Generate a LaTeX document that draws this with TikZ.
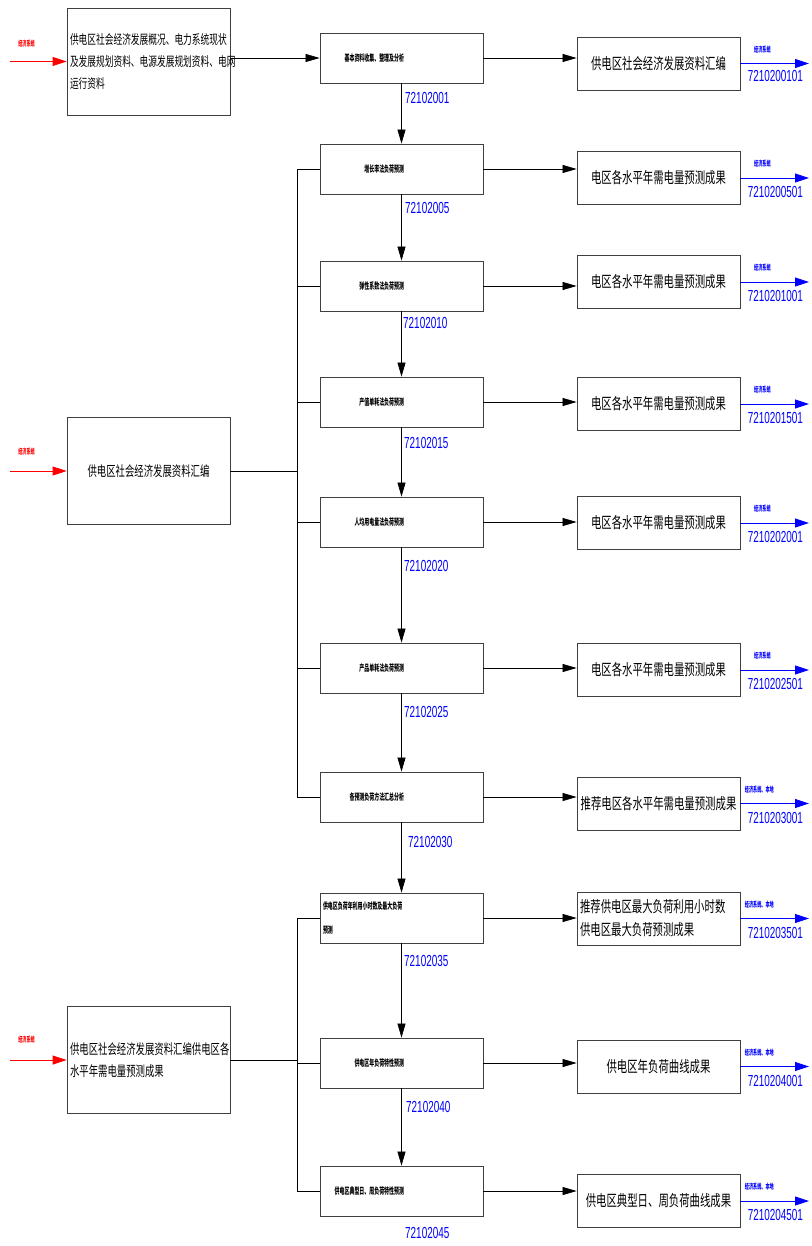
\documentclass[tikz,border=0pt]{standalone}
\usepackage{fontspec}
\setmainfont{Noto Sans CJK SC}
\newfontfamily\cjk[FakeStretch=0.67]{Noto Sans CJK SC}
\newfontfamily\cjknarrow[FakeStretch=0.55]{Noto Sans CJK SC}
\newfontfamily\codefont[FakeStretch=0.62]{Liberation Sans}
\usetikzlibrary{arrows.meta}

% text of a work box, ending at the middle of the box
\newcommand{\proctext}[1]{\hbox to 157pt{\hfill#1\hspace{76pt}}}

\begin{document}
\begin{tikzpicture}[
        x=1pt, y=-1pt,
        src/.style={rectangle, draw=black!75, line width=0.8pt, minimum width=163pt, minimum height=107pt, inner sep=3pt, text width=157pt, align=left, font=\cjk\fontsize{14}{22}\selectfont},
        proc/.style={rectangle, draw=black!75, line width=0.8pt, minimum width=163pt, minimum height=50pt, inner sep=3pt, font=\cjknarrow\bfseries\fontsize{9}{10}\selectfont},
        outbox/.style={rectangle, draw=black!75, line width=0.8pt, minimum width=163pt, minimum height=53pt, inner sep=3pt, align=center, font=\cjk\fontsize{15.5}{23}\selectfont},
        code/.style={text=blue, inner sep=0pt, font=\codefont\fontsize{16}{16}\selectfont},
        tag/.style={inner sep=0pt, font=\cjknarrow\bfseries\fontsize{7.5}{8}\selectfont},
        arrow/.style={-{Triangle[length=14pt,width=8pt]}, line width=0.7pt},
        outarrow/.style={-{Triangle[length=14pt,width=9pt]}, line width=0.9pt, blue},
        inarrow/.style={-{Triangle[length=14pt,width=9pt]}, line width=0.9pt, red},
        bus/.style={line width=0.7pt}
    ]
    \useasboundingbox (0,0) rectangle (811,1246);

    % Source material
    \node[src, font=\cjk\fontsize{13}{22}\selectfont] (src1) at (148.5,61.5) {供电区社会经济发展概况、电力系统现状\\及发展规划资料、电源发展规划资料、电网\\运行资料};
    \node[src, align=center] (src2) at (148.5,471) {供电区社会经济发展资料汇编};
    \node[src] (src3) at (148.5,1060) {供电区社会经济发展资料汇编供电区各\\水平年需电量预测成果};

    % Work steps
    \node[proc] (p1) at (401.5,58) {\proctext{基本资料收集、整理及分析}};
    \node[proc] (p2) at (401.5,169) {\proctext{增长率法负荷预测}};
    \node[proc] (p3) at (401.5,286) {\proctext{弹性系数法负荷预测}};
    \node[proc] (p4) at (401.5,402) {\proctext{产值单耗法负荷预测}};
    \node[proc] (p5) at (401.5,522) {\proctext{人均用电量法负荷预测}};
    \node[proc] (p6) at (401.5,668) {\proctext{产品单耗法负荷预测}};
    \node[proc] (p7) at (401.5,797) {\proctext{各预测负荷方法汇总分析}};
    \node[proc] (p8) at (401.5,918) {\parbox{157pt}{\fontsize{9}{24}\selectfont 供电区负荷年利用小时数及最大负荷\\预测}};
    \node[proc] (p9) at (401.5,1063) {\proctext{供电区年负荷特性预测}};
    \node[proc] (p10) at (401.5,1191) {\proctext{供电区典型日、周负荷特性预测}};

    % Step codes
    \node[code, anchor=west] (c1) at ([shift={(3.5,15)}]p1.south) {72102001};
    \node[code, anchor=west] (c2) at ([shift={(3.5,14)}]p2.south) {72102005};
    \node[code, anchor=west] (c3) at ([shift={(1.5,12)}]p3.south) {72102010};
    \node[code, anchor=west] (c4) at ([shift={(2.5,16)}]p4.south) {72102015};
    \node[code, anchor=west] (c5) at ([shift={(2.5,19)}]p5.south) {72102020};
    \node[code, anchor=west] (c6) at ([shift={(2.5,19)}]p6.south) {72102025};
    \node[code, anchor=west] (c7) at ([shift={(6.5,20)}]p7.south) {72102030};
    \node[code, anchor=west] (c8) at ([shift={(2.5,18)}]p8.south) {72102035};
    \node[code, anchor=west] (c9) at ([shift={(4.5,19)}]p9.south) {72102040};
    \node[code, anchor=west] (c10) at ([shift={(3.5,17)}]p10.south) {72102045};

    % Results
    \node[outbox] (o1) at (658.5,63.5) {供电区社会经济发展资料汇编};
    \node[outbox] (o2) at (658.5,178) {电区各水平年需电量预测成果};
    \node[outbox] (o3) at (658.5,282) {电区各水平年需电量预测成果};
    \node[outbox] (o4) at (658.5,404) {电区各水平年需电量预测成果};
    \node[outbox] (o5) at (658.5,523) {电区各水平年需电量预测成果};
    \node[outbox] (o6) at (658.5,670) {电区各水平年需电量预测成果};
    \node[outbox] (o7) at (658.5,803.5) {推荐电区各水平年需电量预测成果};
    \node[outbox, text width=157pt, align=left] (o8) at (658.5,918.5) {推荐供电区最大负荷利用小时数\\供电区最大负荷预测成果};
    \node[outbox] (o9) at (658.5,1066.5) {供电区年负荷曲线成果};
    \node[outbox] (o10) at (658.5,1201) {供电区典型日、周负荷曲线成果};

    % Inputs
    \coordinate (lin) at (10,0);
    \draw[inarrow] (src1.west -| lin) -- (src1.west);
    \draw[inarrow] (src2.west -| lin) -- (src2.west);
    \draw[inarrow] (src3.west -| lin) -- (src3.west);
    \node[tag, red] (r1) at ([shift={(-40,-18)}]src1.west) {经济系统};
    \node[tag, red] (r2) at ([shift={(-40,-19)}]src2.west) {经济系统};
    \node[tag, red] (r3) at ([shift={(-40,-20)}]src3.west) {经济系统};

    % Flow between steps
    \draw[arrow] (src1.east |- p1.west) -- (p1.west);
    \draw[arrow] (p1) -- (p2);
    \draw[arrow] (p2) -- (p3);
    \draw[arrow] (p3) -- (p4);
    \draw[arrow] (p4) -- (p5);
    \draw[arrow] (p5) -- (p6);
    \draw[arrow] (p6) -- (p7);
    \draw[arrow] (p7) -- (p8);
    \draw[arrow] (p8) -- (p9);
    \draw[arrow] (p9) -- (p10);

    % Feed lines
    \coordinate (bus1) at ([xshift=67pt]src2.east);
    \coordinate (bus2) at ([xshift=67pt]src3.east);
    \draw[bus] (src2.east) -- (bus1);
    \draw[bus] (p2.west) -| (bus1);
    \draw[bus] (p3.west) -| (bus1);
    \draw[bus] (p4.west) -| (bus1);
    \draw[bus] (p5.west) -| (bus1);
    \draw[bus] (p6.west) -| (bus1);
    \draw[bus] (p7.west) -| (bus1);
    \draw[bus] (src3.east) -- (bus2);
    \draw[bus] (p8.west) -| (bus2);
    \draw[bus] (p9.west) -| (bus2);
    \draw[bus] (p10.west) -| (bus2);

    % Steps to results
    \draw[arrow] (p1.east) -- (p1.east -| o1.west);
    \draw[arrow] (p2.east) -- (p2.east -| o2.west);
    \draw[arrow] (p3.east) -- (p3.east -| o3.west);
    \draw[arrow] (p4.east) -- (p4.east -| o4.west);
    \draw[arrow] (p5.east) -- (p5.east -| o5.west);
    \draw[arrow] (p6.east) -- (p6.east -| o6.west);
    \draw[arrow] (p7.east) -- (p7.east -| o7.west);
    \draw[arrow] (p8.east) -- (p8.east -| o8.west);
    \draw[arrow] (p9.east) -- (p9.east -| o9.west);
    \draw[arrow] (p10.east) -- (p10.east -| o10.west);

    % Outputs
    \coordinate (rim) at (809,0);
    \draw[outarrow] (o1.east) -- (o1.east -| rim);
    \draw[outarrow] (o2.east) -- (o2.east -| rim);
    \draw[outarrow] (o3.east) -- (o3.east -| rim);
    \draw[outarrow] (o4.east) -- (o4.east -| rim);
    \draw[outarrow] (o5.east) -- (o5.east -| rim);
    \draw[outarrow] (o6.east) -- (o6.east -| rim);
    \draw[outarrow] (o7.east) -- (o7.east -| rim);
    \draw[outarrow] (o8.east) -- (o8.east -| rim);
    \draw[outarrow] (o9.east) -- (o9.east -| rim);
    \draw[outarrow] (o10.east) -- (o10.east -| rim);

    \node[tag, blue] (t1) at ([shift={(22,-14)}]o1.east) {经济系统};
    \node[tag, blue] (t2) at ([shift={(22,-14)}]o2.east) {经济系统};
    \node[tag, blue] (t3) at ([shift={(22,-14)}]o3.east) {经济系统};
    \node[tag, blue] (t4) at ([shift={(22,-14)}]o4.east) {经济系统};
    \node[tag, blue] (t5) at ([shift={(22,-14)}]o5.east) {经济系统};
    \node[tag, blue] (t6) at ([shift={(22,-14)}]o6.east) {经济系统};
    \node[tag, blue] (t7) at ([shift={(19,-14)}]o7.east) {经济系统、本地};
    \node[tag, blue] (t8) at ([shift={(19,-14)}]o8.east) {经济系统、本地};
    \node[tag, blue] (t9) at ([shift={(19,-14)}]o9.east) {经济系统、本地};
    \node[tag, blue] (t10) at ([shift={(19,-14)}]o10.east) {经济系统、本地};

    \node[code] (oc1) at ([shift={(35,12)}]o1.east) {7210200101};
    \node[code] (oc2) at ([shift={(35,14)}]o2.east) {7210200501};
    \node[code] (oc3) at ([shift={(35,14)}]o3.east) {7210201001};
    \node[code] (oc4) at ([shift={(35,14)}]o4.east) {7210201501};
    \node[code] (oc5) at ([shift={(35,14)}]o5.east) {7210202001};
    \node[code] (oc6) at ([shift={(35,14)}]o6.east) {7210202501};
    \node[code] (oc7) at ([shift={(35,14)}]o7.east) {7210203001};
    \node[code] (oc8) at ([shift={(35,14)}]o8.east) {7210203501};
    \node[code] (oc9) at ([shift={(35,14)}]o9.east) {7210204001};
    \node[code] (oc10) at ([shift={(35,14)}]o10.east) {7210204501};

\end{tikzpicture}
\end{document}
